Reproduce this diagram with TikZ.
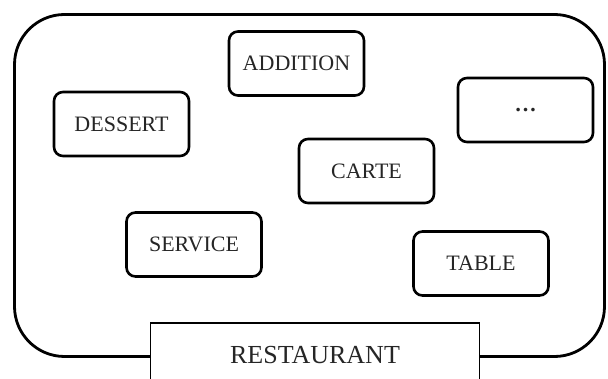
\documentclass[tikz,border=0pt]{standalone}
\usepackage{fontspec}
\setmainfont{Liberation Serif}
\begin{document}
\begin{tikzpicture}[x=1pt,y=-1pt,
  item/.style={draw, line width=2.6pt, rounded corners=9pt, minimum width=135pt,
    minimum height=64pt, inner sep=0pt, fill=white,
    font=\fontsize{22}{26}\selectfont, text=black!85},
  container/.style={draw, line width=2.8pt, rounded corners=50pt, inner sep=0pt},
  title/.style={draw, line width=1.5pt, fill=white, inner sep=0pt,
    font=\fontsize{26}{30}\selectfont, text=black!85}
]
\useasboundingbox (0,0) rectangle (608,379);
\clip (0,0) rectangle (608,379);
\node[container, minimum width=590pt, minimum height=342pt] (area) at (309.5,185.5) {};
\node[item] (addition) at (296.5,63.5) {ADDITION};
\node[item] (dessert)  at (121.5,124) {\raisebox{-3pt}{DESSERT}};
\node[item] (more)     at (525.5,110) {\bfseries\ldots};
\node[item] (carte)    at (366.5,171) {\raisebox{-4pt}{CARTE}};
\node[item] (service)  at (194,244.5) {SERVICE};
\node[item] (table)    at (481,263.5) {TABLE};
\node[title, minimum width=329pt, minimum height=64pt] (restaurant) at (315,355) {RESTAURANT};
\end{tikzpicture}
\end{document}
